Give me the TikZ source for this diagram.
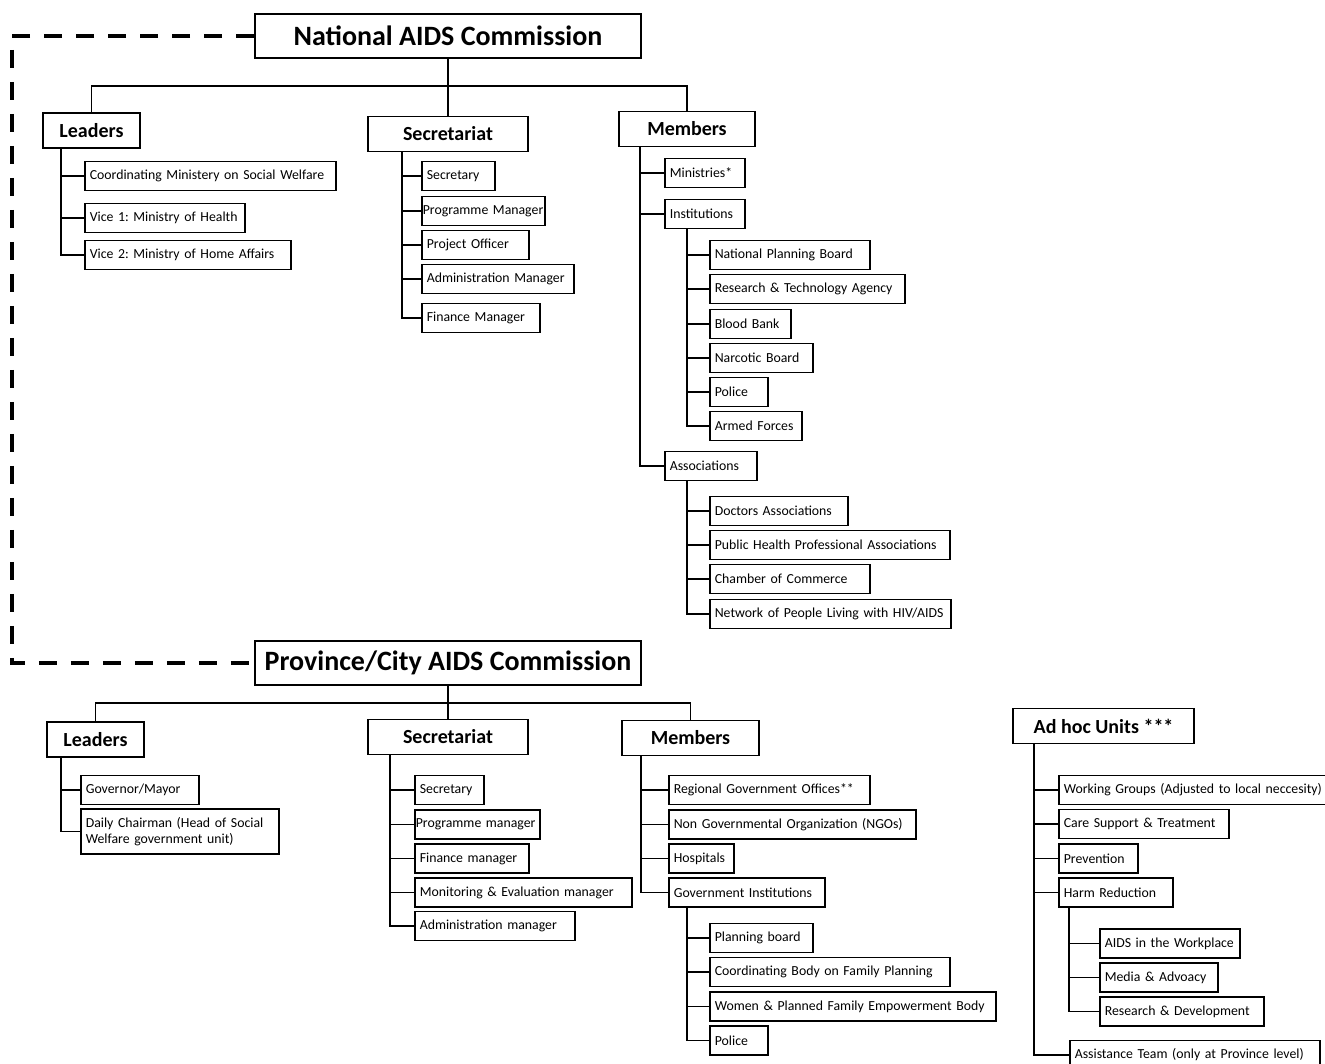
\documentclass[tikz,border=0pt]{standalone}
\usepackage{fontspec}
\setmainfont{Carlito}
\usepackage{tikz}
\frenchspacing

\begin{document}
\begin{tikzpicture}[x=1pt, y=-1pt,
    commission/.style={draw, line width=1.8pt, minimum height=44pt, inner sep=0pt, font=\bfseries\fontsize{28}{32}\selectfont},
    unit/.style={draw, line width=1.8pt, minimum height=35pt, inner sep=0pt, font=\bfseries\fontsize{20}{24}\selectfont},
    leaf/.style={draw, line width=1.6pt, anchor=west, align=left, minimum height=29pt, inner ysep=3pt, inner xsep=5pt, text width={#1*1pt-10pt}, font=\fontsize{13.8}{16.5}\selectfont},
    tleaf/.style={leaf=#1, inner xsep=1pt, text width={#1*1pt-2pt}},
    branch/.style={line width=1.8pt},
    link/.style={line width=4.5pt, dash pattern=on 18pt off 14pt}]
\useasboundingbox (0,0) rectangle (1325,1064);

% national level
\node[commission, minimum width=386pt] (nac) at (448,36) {National AIDS Commission};
\node[unit, minimum width=97pt] (lead) at (91.5,130.5) {Leaders};
\node[unit, minimum width=160pt] (sec) at (448,134) {Secretariat};
\node[unit, minimum width=136pt] (mem) at (687,129) {Members};

\node[leaf=251] (lc1) at (84,176) {Coordinating Ministery on Social Welfare};
\node[leaf=160] (lc2) at (84,218) {Vice 1: Ministry of Health};
\node[leaf=206] (lc3) at (84,255) {Vice 2: Ministry of Home Affairs};

\node[leaf=73] (sc1) at (421,176) {Secretary};
\node[tleaf=123] (sc2) at (421,211) {Programme Manager};
\node[leaf=107] (sc3) at (421,245) {Project Officer};
\node[leaf=152] (sc4) at (421,279) {Administration Manager};
\node[leaf=118] (sc5) at (421,318) {Finance Manager};

\node[leaf=80] (mc1) at (664,173) {Ministries*};
\node[leaf=80] (mc2) at (664,214) {Institutions};
\node[leaf=92] (mc3) at (664,466) {Associations};

\node[leaf=160] (ic1) at (709,255) {National Planning Board};
\node[leaf=195] (ic2) at (709,289) {Research \& Technology Agency};
\node[leaf=81] (ic3) at (709,324) {Blood Bank};
\node[leaf=103] (ic4) at (709,358) {Narcotic Board};
\node[leaf=58] (ic5) at (709,392) {Police};
\node[leaf=92] (ic6) at (709,426) {Armed Forces};

\node[leaf=138] (ac1) at (709,511) {Doctors Associations};
\node[leaf=240] (ac2) at (709,545) {Public Health Professional Associations};
\node[leaf=160] (ac3) at (709,579) {Chamber of Commerce};
\node[leaf=241] (ac4) at (709,614) {Network of People Living with HIV/AIDS};

\coordinate (nbus) at (448,86);
\draw[branch] (nac.south) -- (nbus) -- (sec.north);
\draw[branch] (lead.north) -- (lead.north |- nbus) -- (mem.north |- nbus) -- (mem.north);

\coordinate (lspine) at ([xshift=19pt]lead.south west);
\foreach \c in {lc1,lc2,lc3} \draw[branch] (lspine) |- (\c.west);
\coordinate (sspine) at ([xshift=35pt]sec.south west);
\foreach \c in {sc1,sc2,sc3,sc4,sc5} \draw[branch] (sspine) |- (\c.west);
\coordinate (mspine) at ([xshift=22pt]mem.south west);
\foreach \c in {mc1,mc2,mc3} \draw[branch] (mspine) |- (\c.west);
\coordinate (ispine) at ([xshift=23pt]mc2.south west);
\foreach \c in {ic1,ic2,ic3,ic4,ic5,ic6} \draw[branch] (ispine) |- (\c.west);
\coordinate (aspine) at ([xshift=23pt]mc3.south west);
\foreach \c in {ac1,ac2,ac3,ac4} \draw[branch] (aspine) |- (\c.west);

% province level
\node[commission, minimum width=386pt] (pac) at (448,663) {Province/City AIDS Commission};
\node[unit, minimum width=97pt] (plead) at (95.5,739.5) {Leaders};
\node[unit, minimum width=160pt] (psec) at (448,737) {Secretariat};
\node[unit, minimum width=137pt] (pmem) at (690.5,738) {Members};
\node[unit, minimum width=181pt] (adhoc) at (1103.5,726) {Ad hoc Units ***};

\node[leaf=118] (pl1) at (80,790) {Governor/Mayor};
\node[leaf=198, minimum height=45pt] (pl2) at (80,831.5) {Daily Chairman (Head of Social\\Welfare government unit)};

\node[leaf=69] (ps1) at (414,790) {Secretary};
\node[tleaf=125] (ps2) at (414,824.5) {Programme manager};
\node[leaf=114] (ps3) at (414,858.5) {Finance manager};
\node[leaf=217] (ps4) at (414,892.5) {Monitoring \& Evaluation manager};
\node[leaf=160] (ps5) at (414,926) {Administration manager};

\node[leaf=201] (pm1) at (668,790) {Regional Government Offices**};
\node[leaf=247] (pm2) at (668,824.5) {Non Governmental Organization (NGOs)};
\node[leaf=65] (pm3) at (668,858.5) {Hospitals};
\node[leaf=156] (pm4) at (668,892.5) {Government Institutions};

\node[leaf=103] (gc1) at (709,938) {Planning board};
\node[leaf=240] (gc2) at (709,972) {Coordinating Body on Family Planning};
\node[leaf=286] (gc3) at (709,1006.5) {Women \& Planned Family Empowerment Body};
\node[leaf=58] (gc4) at (709,1040.5) {Police};

\node[leaf=290] (hc1) at (1058,790) {Working Groups (Adjusted to local neccesity)};
\node[leaf=170] (hc2) at (1058,824) {Care Support \& Treatment};
\node[leaf=79] (hc3) at (1058,858.5) {Prevention};
\node[leaf=114] (hc4) at (1058,892.5) {Harm Reduction};
\node[leaf=250] (hc5) at (1069,1055) {Assistance Team (only at Province level)};

\node[leaf=140] (rc1) at (1099,943.5) {AIDS in the Workplace};
\node[leaf=118] (rc2) at (1099,977.5) {Media \& Advoacy};
\node[leaf=164] (rc3) at (1099,1011.5) {Research \& Development};

\coordinate (pbus) at (448,703);
\draw[branch] (pac.south) -- (pbus) -- (psec.north);
\draw[branch] (plead.north) -- (plead.north |- pbus) -- (pmem.north |- pbus) -- (pmem.north);

\coordinate (plspine) at ([xshift=15pt]plead.south west);
\foreach \c in {pl1,pl2} \draw[branch] (plspine) |- (\c.west);
\coordinate (psspine) at ([xshift=23pt]psec.south west);
\foreach \c in {ps1,ps2,ps3,ps4,ps5} \draw[branch] (psspine) |- (\c.west);
\coordinate (pmspine) at ([xshift=20pt]pmem.south west);
\foreach \c in {pm1,pm2,pm3,pm4} \draw[branch] (pmspine) |- (\c.west);
\coordinate (gspine) at ([xshift=19pt]pm4.south west);
\foreach \c in {gc1,gc2,gc3,gc4} \draw[branch] (gspine) |- (\c.west);
\coordinate (hspine) at ([xshift=22pt]adhoc.south west);
\foreach \c in {hc1,hc2,hc3,hc4,hc5} \draw[branch] (hspine) |- (\c.west);
\coordinate (rspine) at ([xshift=11pt]hc4.south west);
\foreach \c in {rc1,rc2,rc3} \draw[branch] (rspine) |- (\c.west);

% link between the two levels
\coordinate (dcorner) at (12,36);
\draw[link] (nac.west) -| (dcorner) |- (pac.west);
\end{tikzpicture}
\end{document}
